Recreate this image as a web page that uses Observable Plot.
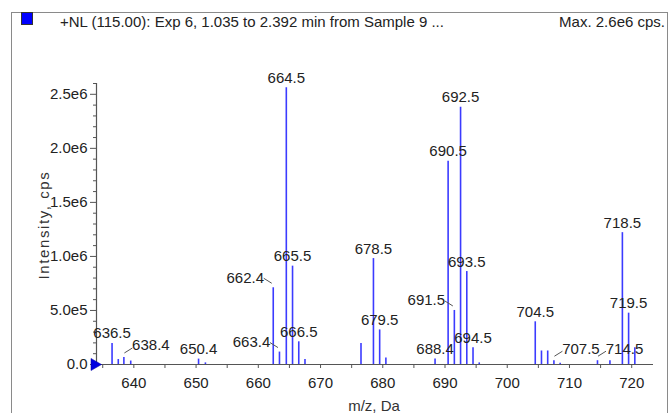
<!DOCTYPE html>
<html><head><meta charset="utf-8">
<script src="https://cdn.jsdelivr.net/npm/d3@7"></script>
<script src="https://cdn.jsdelivr.net/npm/@observablehq/plot@0.6"></script>
<style>
body{margin:0;background:#fff;font-family:"Liberation Sans",Arial,sans-serif;}
#wrap{position:relative;width:672px;height:413px;overflow:hidden;background:#fff;}
#box{position:absolute;left:11px;top:12px;width:657px;height:430px;border:1px solid #8a8a8a;box-sizing:border-box;}
#swatch{position:absolute;left:21px;top:12px;width:12px;height:13px;background:#0000ff;border:1px solid #333;box-sizing:border-box;}
.hdr{position:absolute;top:14px;font-size:15px;line-height:15px;color:#222;white-space:nowrap;}
#title{left:60px;}
#max{right:7px;}
#ylab{position:absolute;left:43px;top:225px;font-size:15px;line-height:15px;color:#333;letter-spacing:1.6px;white-space:nowrap;transform:translate(-50%,-50%) rotate(-90deg);}
#xlab{position:absolute;left:374px;top:398px;font-size:15px;line-height:15px;color:#333;white-space:nowrap;transform:translateX(-50%);}
#chart{position:absolute;left:0;top:0;}
</style></head>
<body>
<div id="wrap">
  <div id="box"></div>
  <div id="swatch"></div>
  <div class="hdr" id="title">+NL (115.00): Exp 6, 1.035 to 2.392 min from Sample 9 ...</div>
  <div class="hdr" id="max">Max. 2.6e6 cps.</div>
  <div id="ylab">Intensity, cps</div>
  <div id="xlab">m/z, Da</div>
  <div id="chart"></div>
</div>
<script>
// ---- data ----
const mz = [636.5, 637.5, 638.4, 639.5, 650.4, 651.5, 662.4, 663.4, 664.5, 665.5, 666.5, 667.5,
            676.5, 678.5, 679.5, 680.5, 688.4, 690.5, 691.5, 692.5, 693.5, 694.5, 695.5,
            704.5, 705.5, 706.5, 707.5, 708.5, 714.5, 716.5, 718.5, 719.5, 720.5];
const intensity = [1.95e5, 4.6e4, 6.5e4, 3.2e4, 5.0e4, 1.5e4, 7.1e5, 1.15e5, 2.56e6, 9.1e5, 2.1e5, 4.6e4,
            1.95e5, 9.8e5, 3.2e5, 6.0e4, 5.0e4, 1.88e6, 5.0e5, 2.38e6, 8.6e5, 1.55e5, 1.5e4,
            3.95e5, 1.25e5, 1.25e5, 3.5e4, 1.2e4, 3.5e4, 3.5e4, 1.22e6, 4.75e5, 1.55e5];
const labelMz = [636.5, 638.4, 650.4, 662.4, 663.4, 664.5, 665.5, 666.5, 678.5, 679.5, 688.4,
                 690.5, 691.5, 692.5, 693.5, 694.5, 704.5, 707.5, 714.5, 718.5, 719.5];
const labelSide = ["above", "right", "above", "left", "left", "above", "above", "above", "above", "above", "above",
                   "above", "left", "above", "above", "above", "above", "right", "right", "above", "above"];
const xDomain = [634, 723.5];
const yDomain = [0, 2.6e6];
const xTicks = [640, 650, 660, 670, 680, 690, 700, 710, 720];
const xTickLabels = ["640", "650", "660", "670", "680", "690", "700", "710", "720"];
const xMinorTicks = [635, 645, 655, 665, 675, 685, 695, 705, 715];
const yTicks = [0, 5e5, 1e6, 1.5e6, 2e6, 2.5e6];
const yTickLabels = ["0.0", "5.0e5", "1.0e6", "1.5e6", "2.0e6", "2.5e6"];
const yMinorTicks = d3.range(1e5, 2.65e6, 1e5).filter(v => Math.round(v / 1e5) % 5 !== 0);

// ---- tables ----
const peaks = mz.map((m, i) => ({mz: m, intensity: intensity[i]}));
const labels = labelMz.map((m, i) => ({mz: m, intensity: intensity[mz.indexOf(m)], text: m.toFixed(1), side: labelSide[i]}));

const font = '"Liberation Sans", Arial, sans-serif';
const barColor = "#3b3bff";
const axisColor = "#555";

const chart = Plot.plot({
  width: 672, height: 413,
  marginLeft: 96, marginRight: 19, marginTop: 83, marginBottom: 49,
  x: {domain: xDomain},
  y: {domain: yDomain},
  style: {fontFamily: font, fontSize: "15px", color: "#222", background: "transparent", overflow: "visible"},
  marks: [
    Plot.ruleX(peaks, {x: "mz", y1: 0, y2: "intensity", stroke: barColor, strokeWidth: 1.6}),
    Plot.ruleY([0], {stroke: axisColor, strokeWidth: 1.2}),
    Plot.ruleX([xDomain[0]], {stroke: axisColor, strokeWidth: 1.2}),
    Plot.axisY({ticks: yTicks, tickSize: 6, tickPadding: 3, tickFormat: (d, i) => yTickLabels[i], label: null, stroke: axisColor, fill: "#222", fontSize: 15}),
    Plot.axisY({ticks: yMinorTicks, tickSize: 3, tickFormat: () => "", label: null, stroke: axisColor}),
    Plot.axisX({ticks: xTicks, tickSize: 4, tickPadding: 9, tickFormat: (d, i) => xTickLabels[i], label: null, stroke: axisColor, fill: "#222", fontSize: 15}),
    Plot.axisX({ticks: xMinorTicks, tickSize: 4, tickFormat: () => "", label: null, stroke: axisColor}),
    Plot.text(labels.filter(d => d.side === "above"), {x: "mz", y: "intensity", text: "text", lineAnchor: "bottom", dy: -5, fill: "#222", fontSize: 15}),
    Plot.text(labels.filter(d => d.side === "left"), {x: "mz", y: "intensity", text: "text", lineAnchor: "bottom", dx: -28, dy: -5, fill: "#222", fontSize: 15}),
    Plot.text(labels.filter(d => d.side === "right"), {x: "mz", y: "intensity", text: "text", lineAnchor: "bottom", dx: 27, dy: -7, fill: "#222", fontSize: 15}),
    Plot.dot([{mz: xDomain[0], intensity: 0}], {x: "mz", y: "intensity", symbol: "triangle", rotate: 90, r: 4.5, dx: -2, fill: "#0000e0", stroke: "#0000a0", strokeWidth: 0.5})
  ]
});

// leader lines for offset labels, placed through the plot's own scales
const sx = chart.scale("x"), sy = chart.scale("y");
const fx = sx.apply ? v => sx.apply(v) : d3.scaleLinear(sx.domain, sx.range);
const fy = sy.apply ? v => sy.apply(v) : d3.scaleLinear(sy.domain, sy.range);
const g = d3.select(chart).append("g").attr("stroke", "#555").attr("stroke-width", 1);
labels.filter(d => d.side !== "above").forEach(d => {
  const px = fx(d.mz), py = fy(d.intensity);
  if (d.side === "left") g.append("line").attr("x1", px - 9).attr("y1", py - 9).attr("x2", px - 1).attr("y2", py - 4);
  else g.append("line").attr("x1", px + 1).attr("y1", py - 4).attr("x2", px + 9).attr("y2", py - 9);
});
document.getElementById("chart").appendChild(chart);
</script>
</body></html>
